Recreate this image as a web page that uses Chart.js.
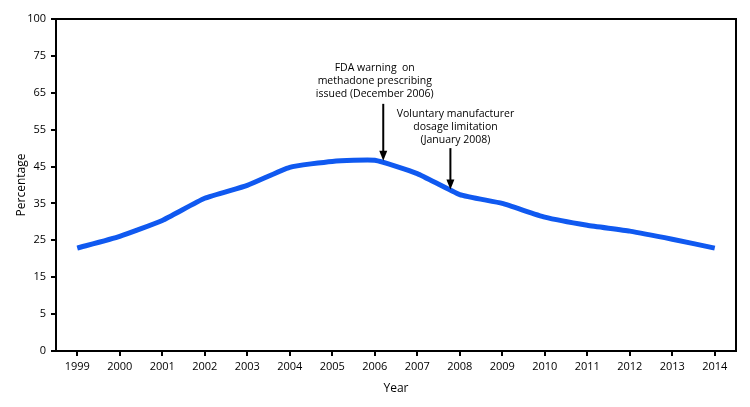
<!DOCTYPE html>
<html>
<head>
<meta charset="utf-8">
<script src="https://cdn.jsdelivr.net/npm/chart.js@4"></script>
<style>
  html, body { margin: 0; padding: 0; background: #fff; }
  #wrap { width: 750px; height: 407px; }
</style>
</head>
<body>
<div id="wrap"><canvas id="chart"></canvas></div>
<script>
// data
var years = ['1999', '2000', '2001', '2002', '2003', '2004', '2005', '2006',
             '2007', '2008', '2009', '2010', '2011', '2012', '2013', '2014'];
var percentage = [22.9, 26.1, 30.4, 36.4, 39.9, 44.8, 46.4, 46.7,
                  43.1, 37.4, 35.0, 31.3, 29.1, 27.5, 25.3, 22.9];

// the y axis is evenly spaced but broken at both ends: 0 and 100 sit one step past 5 and 75
var tickValues = [-5, 5, 15, 25, 35, 45, 55, 65, 75, 85];
var tickLabels = ['0', '5', '15', '25', '35', '45', '55', '65', '75', '100'];

// annotations: x as fractional category index, y tail/tip in data units
var notes = [
  { lines: ['FDA warning  on', 'methadone prescribing', 'issued (December 2006)'],
    x: 7.2, textX: 7.0, tail: 62, tip: 46.6, textY: 71.6 },
  { lines: ['Voluntary manufacturer', 'dosage limitation', '(January 2008)'],
    x: 8.78, textX: 8.9, tail: 50, tip: 38.8, textY: 59.2 }
];

var font = '"Open Sans", sans-serif';

var framePlugin = {
  id: 'frame',
  afterDraw: function (chart) {
    var ctx = chart.ctx;
    var a = chart.chartArea;
    ctx.save();
    ctx.strokeStyle = '#000';
    ctx.lineWidth = 2;
    ctx.beginPath();
    ctx.moveTo(a.left, a.top);
    ctx.lineTo(a.right, a.top);
    ctx.lineTo(a.right, a.bottom);
    ctx.stroke();

    var xs = chart.scales.x, ys = chart.scales.y;
    notes.forEach(function (n) {
      var px = xs.getPixelForValue(n.x);
      var y0 = ys.getPixelForValue(n.tail);
      var y1 = ys.getPixelForValue(n.tip);
      ctx.lineWidth = 2;
      ctx.beginPath();
      ctx.moveTo(px, y0);
      ctx.lineTo(px, y1 - 8);
      ctx.stroke();
      ctx.fillStyle = '#000';
      ctx.beginPath();
      ctx.moveTo(px - 4, y1 - 10);
      ctx.lineTo(px + 4, y1 - 10);
      ctx.lineTo(px, y1);
      ctx.closePath();
      ctx.fill();

      ctx.font = '10.5px ' + font;
      ctx.textAlign = 'center';
      ctx.textBaseline = 'middle';
      var tx = xs.getPixelForValue(n.textX);
      var ty = ys.getPixelForValue(n.textY);
      n.lines.forEach(function (line, i) {
        ctx.fillText(line, tx, ty + i * 13);
      });
    });
    ctx.restore();
  }
};

new Chart(document.getElementById('chart').getContext('2d'), {
  type: 'line',
  data: {
    labels: years,
    datasets: [{
      label: 'Percentage',
      data: percentage,
      borderColor: '#1059f0',
      borderWidth: 5,
      pointRadius: 0,
      tension: 0.15,
      fill: false
    }]
  },
  options: {
    responsive: true,
    maintainAspectRatio: false,
    animation: false,
    layout: { padding: { top: 19, right: 14, left: 0, bottom: 0 } },
    plugins: {
      legend: { display: false },
      tooltip: { enabled: false }
    },
    scales: {
      x: {
        offset: true,
        grid: { display: true, drawOnChartArea: false, drawTicks: true, tickLength: 5, color: '#000', lineWidth: 2, offset: false },
        border: { display: true, color: '#000', width: 2 },
        ticks: { color: '#000', font: { family: font, size: 11 }, padding: 4, maxRotation: 0 },
        title: { display: true, text: 'Year', color: '#000', font: { family: font, size: 12 }, padding: { top: 0, bottom: 11 } },
        afterFit: function (s) { s.height = 56; }
      },
      y: {
        min: -5,
        max: 85,
        afterBuildTicks: function (s) {
          s.ticks = tickValues.map(function (v) { return { value: v }; });
        },
        grid: { display: true, drawOnChartArea: false, drawTicks: true, tickLength: 5, color: '#000', lineWidth: 2 },
        border: { display: true, color: '#000', width: 2 },
        ticks: {
          color: '#000',
          font: { family: font, size: 11 },
          padding: 5,
          callback: function (v) {
            var i = tickValues.indexOf(v);
            return i >= 0 ? tickLabels[i] : '';
          }
        },
        title: { display: true, text: 'Percentage', color: '#000', font: { family: font, size: 12 }, padding: { top: 14, bottom: 0 } },
        afterFit: function (s) { s.width = 56; }
      }
    }
  },
  plugins: [framePlugin]
});
</script>
</body>
</html>
